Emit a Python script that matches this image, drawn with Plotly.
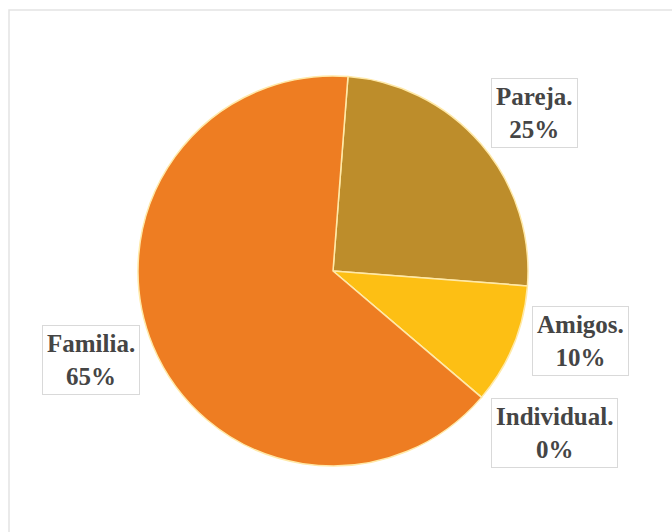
import plotly.graph_objects as go

categories = ["Pareja", "Amigos", "Individual", "Familia"]
values = [25, 10, 0, 65]
colors = ["#BD8D2B", "#FDBF14", "#A5A5A5", "#EE7D22"]
label_pos = {  # pixel centers of callout boxes
    "Pareja": (534, 113),
    "Amigos": (580, 341),
    "Individual": (554, 433),
    "Familia": (91, 360),
}

W, H = 672, 532
cx, cy, r = 333, 271, 195

fig = go.Figure(go.Pie(
    labels=categories,
    values=values,
    sort=False,
    direction="clockwise",
    rotation=4.4,
    marker=dict(colors=colors, line=dict(color="#FFE9A8", width=1.5)),
    textinfo="none",
    hoverinfo="label+percent",
    showlegend=False,
    domain=dict(x=[(cx - r) / W, (cx + r) / W], y=[(H - cy - r) / H, (H - cy + r) / H]),
))

total = sum(values)
for cat, v in zip(categories, values):
    px, py = label_pos[cat]
    fig.add_annotation(
        x=px / W, y=1 - py / H, xref="paper", yref="paper",
        xanchor="center", yanchor="middle",
        text=f"{cat}.<br>{round(100 * v / total)}%",
        showarrow=False, align="center",
        font=dict(family="Liberation Serif", size=25, color="#454545", weight="bold"),
        bordercolor="#D9D9D9", borderwidth=1, borderpad=4, bgcolor="white",
    )

fig.add_shape(type="rect", xref="paper", yref="paper",
              x0=9 / W, x1=1.02, y0=-0.02, y1=1 - 10 / H,
              line=dict(color="#E3E3E3", width=1.5))

fig.update_layout(
    width=W, height=H,
    margin=dict(l=0, r=0, t=0, b=0),
    paper_bgcolor="white", plot_bgcolor="white",
)

fig.write_html("out.html", config={"displayModeBar": False},
               post_script="document.body.style.margin='0';document.body.style.overflow='hidden';")
